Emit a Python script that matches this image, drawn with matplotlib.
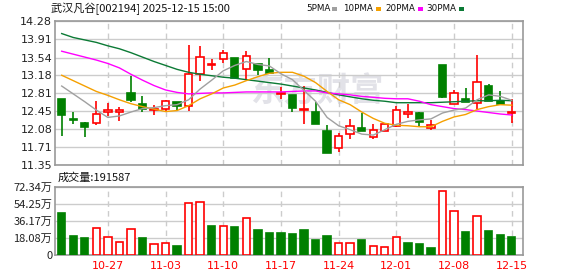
import matplotlib
matplotlib.use('Agg')
import matplotlib.pyplot as plt
from matplotlib.patches import Rectangle

# ---------------- data ----------------
dates = ['10-21', '10-22', '10-23', '10-24',
         '10-27', '10-28', '10-29', '10-30', '10-31',
         '11-03', '11-04', '11-05', '11-06', '11-07',
         '11-10', '11-11', '11-12', '11-13', '11-14',
         '11-17', '11-18', '11-19', '11-20', '11-21',
         '11-24', '11-25', '11-26', '11-27', '11-28',
         '12-01', '12-02', '12-03', '12-04', '12-05',
         '12-08', '12-09', '12-10', '12-11', '12-12',
         '12-15']
opens = [12.70, 12.28, 12.20, 12.20, 12.44, 12.43, 12.82, 12.59, 12.48, 12.49,
         12.63, 12.55, 13.21, 13.39, 13.51, 13.53, 13.30, 13.40, 13.29, 12.80,
         12.77, 12.47, 12.43, 12.04, 11.69, 11.98, 12.10, 11.92, 12.05, 12.15,
         12.39, 12.41, 12.10, 13.39, 12.59, 12.70, 12.61, 12.96, 12.65, 12.42]
highs = [12.70, 12.43, 12.22, 12.66, 12.61, 12.53, 13.16, 12.75, 12.57, 12.67,
         12.63, 13.80, 13.78, 13.51, 13.70, 13.54, 13.67, 13.40, 13.53, 12.95,
         12.77, 12.96, 12.64, 12.17, 12.00, 12.29, 12.41, 12.18, 12.21, 12.55,
         12.59, 12.44, 12.27, 13.39, 12.88, 12.92, 13.59, 13.00, 12.86, 12.70]
lows = [11.95, 12.18, 11.92, 12.16, 12.34, 12.25, 12.64, 12.43, 12.36, 12.45,
        12.47, 12.46, 13.07, 13.29, 13.42, 13.12, 13.08, 13.19, 13.23, 12.69,
        12.43, 12.19, 12.19, 11.60, 11.62, 11.89, 12.04, 11.89, 12.04, 12.13,
        12.30, 12.13, 12.06, 12.72, 12.59, 12.63, 12.49, 12.66, 12.59, 12.21]
closes = [12.36, 12.26, 12.13, 12.40, 12.47, 12.48, 12.68, 12.49, 12.50, 12.66,
          12.56, 13.21, 13.55, 13.40, 13.64, 13.12, 13.57, 13.29, 13.23, 12.82,
          12.52, 12.49, 12.19, 11.60, 11.94, 12.14, 12.04, 12.06, 12.18, 12.47,
          12.43, 12.22, 12.17, 12.74, 12.81, 12.63, 13.04, 12.66, 12.59, 12.43]
volumes = [448000, 204000, 183000, 286000, 191000, 138000, 275000, 183000, 117000, 127000,
           99000, 551000, 561000, 307000, 304000, 297000, 388000, 265000, 233000, 229000,
           222000, 265000, 159000, 201000, 124000, 124000, 159000, 95000, 85000, 187000,
           127000, 117000, 74000, 678000, 463000, 244000, 410000, 254000, 212000, 191587]
ma5 = [12.96, 12.80, 12.64, 12.47, 12.32, 12.35, 12.43, 12.50, 12.52, 12.56,
       12.58, 12.68, 12.90, 13.08, 13.27, 13.38, 13.46, 13.40, 13.37, 13.21,
       13.09, 12.87, 12.65, 12.32, 12.15, 12.07, 11.98, 11.96, 12.07, 12.18,
       12.24, 12.27, 12.29, 12.41, 12.47, 12.51, 12.68, 12.78, 12.75, 12.67]
ma10 = [13.18, 13.07, 12.96, 12.85, 12.77, 12.68, 12.60, 12.54, 12.49, 12.44,
        12.46, 12.56, 12.70, 12.80, 12.92, 12.98, 13.07, 13.15, 13.22, 13.24,
        13.24, 13.16, 13.03, 12.85, 12.68, 12.58, 12.43, 12.30, 12.20, 12.16,
        12.15, 12.13, 12.13, 12.24, 12.33, 12.38, 12.48, 12.54, 12.58, 12.57]
ma20 = [13.67, 13.61, 13.55, 13.49, 13.42, 13.33, 13.20, 13.08, 12.97, 12.88,
        12.83, 12.80, 12.81, 12.82, 12.82, 12.83, 12.84, 12.84, 12.84, 12.84,
        12.85, 12.86, 12.86, 12.82, 12.80, 12.78, 12.75, 12.73, 12.71, 12.70,
        12.70, 12.65, 12.58, 12.54, 12.50, 12.48, 12.45, 12.42, 12.39, 12.37]
ma30 = [14.03, 13.95, 13.90, 13.85, 13.78, 13.72, 13.64, 13.55, 13.46, 13.38,
        13.30, 13.24, 13.20, 13.17, 13.14, 13.12, 13.09, 13.06, 13.03, 13.00,
        12.96, 12.92, 12.88, 12.83, 12.78, 12.74, 12.70, 12.67, 12.65, 12.62,
        12.62, 12.62, 12.62, 12.63, 12.64, 12.65, 12.66, 12.66, 12.67, 12.66]
price_ticks = [11.35, 11.71, 12.08, 12.45, 12.81, 13.18, 13.54, 13.91, 14.28]
vol_ticks = [0, 180850, 361700, 542550, 723400]
vol_tick_labels = ['0', '18.08万', '36.17万', '54.25万', '72.34万']
date_tick_labels = ['10-27', '11-03', '11-10', '11-17', '11-24', '12-01', '12-08', '12-15']
title_text = '武汉凡谷[002194] 2025-12-15 15:00'
ma_names = ['5PMA', '10PMA', '20PMA', '30PMA']
vol_title = '成交量:191587'

# ---------------- style ----------------
plt.rcParams['font.family'] = ['Noto Sans CJK SC', 'DejaVu Sans']
RED = '#ff0000'
GREEN = '#008000'
MA_COLORS = ['#a0a0a0', '#f5a000', '#ff00ff', '#0b7a35']
GRID = '#cccccc'
FRAME = '#999999'

W, H = 578, 276
fig = plt.figure(figsize=(W / 100, H / 100), dpi=100)


def fx(x):
    return x / W


def fy(y):
    return 1 - y / H


L, R = 55, 522.7
ax = fig.add_axes([fx(L), fy(165), fx(R - L), fy(21.3) - fy(165)])
axv = fig.add_axes([fx(L), fy(255), fx(R - L), fy(186.7) - fy(255)])

n = len(closes)
xs = list(range(n))
xlim = (-0.58, 39.95)
date_pos = [dates.index(d) for d in date_tick_labels]

# watermark
ax.text(0.56, 0.51, '东方财富', transform=ax.transAxes, ha='center', va='center',
        fontsize=24, fontweight='bold', color='#e2e2e8', zorder=0)

# price chart
bw = 0.64
for i in xs:
    o, h, l, c = opens[i], highs[i], lows[i], closes[i]
    up = c >= o
    col = RED if up else GREEN
    ax.vlines(i, l, h, color=col, linewidth=1.2, zorder=3)
    bottom = min(o, c)
    height = max(abs(c - o), 0.012)
    ax.bar(i, height, bottom=bottom, width=bw,
           facecolor='white' if up else GREEN, edgecolor=col,
           linewidth=1.2, zorder=4)

for vals, col in zip([ma30, ma20, ma10, ma5], MA_COLORS[::-1]):
    ax.plot(xs, vals, color=col, linewidth=1.0, zorder=5)

ax.set_xlim(*xlim)
ax.set_ylim(price_ticks[0], price_ticks[-1])
ax.set_yticks(price_ticks)
ax.set_yticklabels([f'{t:.2f}' for t in price_ticks], fontsize=8, color='#222222',
                   family='DejaVu Sans')
ax.set_xticks(date_pos)
ax.set_xticklabels([])
ax.tick_params(length=0, pad=2)
ax.grid(axis='y', color=GRID, linewidth=1.0, zorder=1)
ax.grid(axis='x', color=GRID, linewidth=1.0, linestyle=(0, (4, 3)), zorder=1)
ax.set_axisbelow(True)
for s in ax.spines.values():
    s.set_color(FRAME)
    s.set_linewidth(1.2)

# volume chart
for i in xs:
    up = closes[i] >= (closes[i - 1] if i > 0 else opens[i])
    col = RED if up else GREEN
    axv.bar(i, volumes[i], width=bw, facecolor='white' if up else GREEN,
            edgecolor=col, linewidth=1.2, zorder=3)
axv.set_xlim(*xlim)
axv.set_ylim(vol_ticks[0], vol_ticks[-1])
axv.set_yticks(vol_ticks)
axv.set_yticklabels(vol_tick_labels, fontsize=8, color='#222222')
axv.set_xticks(date_pos)
axv.set_xticklabels(date_tick_labels, fontsize=8, color=RED, family='DejaVu Sans')
axv.tick_params(length=0, pad=2)
axv.tick_params(axis='x', pad=4)
axv.grid(axis='y', color=GRID, linewidth=1.0, zorder=1)
axv.grid(axis='x', color=GRID, linewidth=1.0, linestyle=(0, (4, 3)), zorder=1)
axv.set_axisbelow(True)
for s in axv.spines.values():
    s.set_color(FRAME)
    s.set_linewidth(1.2)

# header texts
fig.text(fx(50.5), fy(8.5), title_text, fontsize=8, va='center', ha='left',
         color='#111111')
leg_x = [306, 343, 385, 426.7]
sq_x = [332, 376, 417.7, 459.3]
for name, col, tx, sx in zip(ma_names, MA_COLORS, leg_x, sq_x):
    fig.text(fx(tx), fy(8.5), name, fontsize=6.3, va='center', ha='left',
             color='#111111', family='DejaVu Sans')
    fig.patches.append(Rectangle((fx(sx), fy(11)), fx(5), fy(7) - fy(11),
                                 transform=fig.transFigure, facecolor=col,
                                 edgecolor='none'))
fig.text(fx(57.7), fy(177.3), vol_title, fontsize=8, va='center', ha='left',
         color='#111111')

fig.savefig('out.png', dpi=100)
